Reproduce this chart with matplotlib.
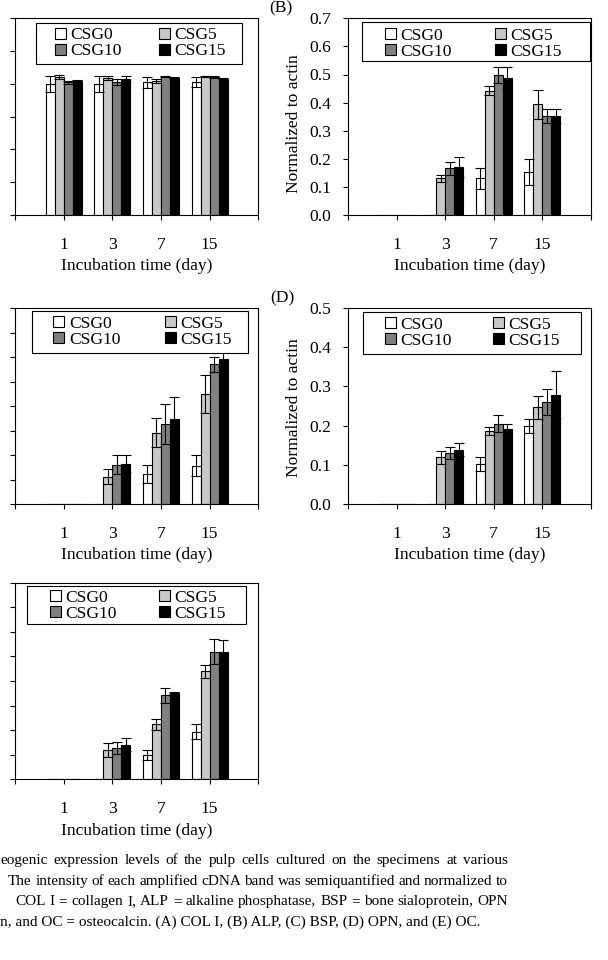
import numpy as np
import matplotlib
matplotlib.use("Agg")
import matplotlib.pyplot as plt
from matplotlib.patches import Rectangle

plt.rcParams['font.family'] = ['Liberation Serif', 'DejaVu Serif']
plt.rcParams['font.size'] = 12.6

# Datos (filas: CSG0, CSG5, CSG10, CSG15 ; columnas: dias)
dias = ['1', '3', '7', '15']
grupos = ['CSG0', 'CSG5', 'CSG10', 'CSG15']
colores = ['white', '#c8c8c8', '#808080', 'black']

# (A) COL I
col1 = [[0.80, 0.80, 0.81, 0.81],
        [0.84, 0.837, 0.82, 0.845],
        [0.81, 0.812, 0.843, 0.84],
        [0.82, 0.829, 0.837, 0.83]]
col1_err = [[0.048, 0.048, 0.033, 0.03],
            [0.012, 0.012, 0.012, 0.005],
            [0.008, 0.02, 0.004, 0.006],
            [0.005, 0.018, 0.003, 0.003]]

# (B) ALP
alp = [[0, 0, 0.130, 0.154],
       [0, 0.130, 0.442, 0.394],
       [0, 0.166, 0.498, 0.353],
       [0, 0.172, 0.489, 0.353]]
alp_err = [[0, 0, 0.036, 0.047],
           [0, 0.014, 0.016, 0.051],
           [0, 0.024, 0.027, 0.025],
           [0, 0.036, 0.039, 0.025]]

# (C) BSP
bsp = [[0, 0, 0.123, 0.157],
       [0, 0.112, 0.290, 0.449],
       [0, 0.160, 0.328, 0.570],
       [0, 0.164, 0.346, 0.591]]
bsp_err = [[0, 0, 0.038, 0.044],
           [0, 0.031, 0.059, 0.078],
           [0, 0.038, 0.082, 0.031],
           [0, 0.034, 0.089, 0.030]]

# (D) OPN
opn = [[0, 0, 0.102, 0.199],
       [0, 0.119, 0.186, 0.247],
       [0, 0.131, 0.205, 0.261],
       [0, 0.139, 0.191, 0.279]]
opn_err = [[0, 0, 0.017, 0.019],
           [0, 0.016, 0.011, 0.029],
           [0, 0.015, 0.021, 0.033],
           [0, 0.016, 0.014, 0.060]]

# (E) OC
oc = [[0, 0, 0.099, 0.193],
      [0, 0.119, 0.223, 0.439],
      [0, 0.128, 0.342, 0.520],
      [0, 0.141, 0.351, 0.520]]
oc_err = [[0, 0, 0.020, 0.030],
          [0, 0.027, 0.022, 0.027],
          [0, 0.025, 0.031, 0.050],
          [0, 0.026, 0.003, 0.048]]

W, H = 608, 960
fig = plt.figure(figsize=(W / 100, H / 100), dpi=100)


def px_rect(x0, y0, x1, y1):
    return [x0 / W, 1 - y1 / H, (x1 - x0) / W, (y1 - y0) / H]


def panel(rect, medias, errores, ytop, n_int, caja, contenido, centro_leg, ylab_y=None):
    ax = fig.add_axes(px_rect(*rect))
    x = np.arange(1, len(dias) + 1)
    ancho = 0.185
    barras = []
    for i, g in enumerate(grupos):
        pos = x + (i - 1.5) * ancho
        med = np.array(medias[i])
        err = np.array(errores[i])
        b = ax.bar(pos, med, ancho, color=colores[i], edgecolor='black',
                   linewidth=0.8, label=g, zorder=2)
        barras.append(b)
        m = err > 0
        ax.errorbar(pos[m], med[m], yerr=err[m], fmt='none', ecolor='black',
                    elinewidth=0.8, capsize=3.5, capthick=0.8, zorder=3)

    ax.set_xlim(0, 5)
    ax.set_xticks(range(6))
    ax.set_xticklabels([''] + dias + [''])
    ax.set_ylim(0, ytop)
    ax.set_yticks(np.linspace(0, ytop, n_int + 1))
    ax.yaxis.set_major_formatter(matplotlib.ticker.FormatStrFormatter('%.1f'))
    ax.tick_params(direction='out', length=3.6, width=0.8)
    ax.tick_params(axis='x', pad=12)
    ax.tick_params(axis='y', pad=9)
    for s in ax.spines.values():
        s.set_linewidth(0.8)
    ax.set_xlabel('Incubation time (day)', labelpad=4)
    if ylab_y is not None:
        ax.set_ylabel('Normalized to actin')
        ax.yaxis.set_label_coords(-0.19, ylab_y)
    else:
        ax.tick_params(axis='y', labelleft=False)

    # caja de la leyenda
    bx0, bx1, by0, by1 = caja
    ax.add_patch(Rectangle((bx0, by0), bx1 - bx0, by1 - by0, transform=ax.transAxes,
                           facecolor='white', edgecolor='black', linewidth=0.8, zorder=4))
    cx0, cx1 = contenido
    orden = (0, 2, 1, 3)
    ax.legend([barras[k] for k in orden], [grupos[k] for k in orden], ncol=2,
              mode='expand', loc='center', bbox_to_anchor=(cx0, centro_leg, cx1 - cx0, 0),
              frameon=False, borderpad=0, borderaxespad=0, handlelength=0.63,
              handleheight=0.63, handletextpad=0.25, labelspacing=0,
              columnspacing=1.0)
    return ax


panel((15, 18.3, 258.3, 215), col1, col1_err, 1.2, 6,
      (0.086, 0.934, 0.767, 0.976), (0.165, 0.868), 0.872)
panel((348.3, 18.3, 590.7, 215), alp, alp_err, 0.7, 7,
      (0.056, 0.998, 0.783, 0.981), (0.152, 0.882), 0.871, 0.463)
panel((15, 308, 258.3, 504), bsp, bsp_err, 0.8, 8,
      (0.069, 0.956, 0.769, 0.983), (0.158, 0.892), 0.878)
panel((348.3, 308, 590.7, 504), opn, opn_err, 0.5, 5,
      (0.059, 0.959, 0.766, 0.978), (0.151, 0.873), 0.873, 0.49)
panel((15, 582.7, 258.3, 779.3), oc, oc_err, 0.8, 8,
      (0.051, 0.950, 0.790, 0.983), (0.144, 0.867), 0.882)

fig.text(281 / W, 1 - 0.5 / H, '(B)', ha='center', va='top')
fig.text(282 / W, 1 - 298 / H, '(D)', ha='center', va='center')

# pie de figura (recortado a la izquierda, justificado)
tam_pie = 11
renderer = fig.canvas.get_renderer()


def linea_justificada(texto, x0, x1, y):
    palabras = texto.split(' ')
    objs = [fig.text(0, 1 - y / H, p, fontsize=tam_pie, va='baseline') for p in palabras]
    anchos = [t.get_window_extent(renderer).width for t in objs]
    hueco = (x1 - x0 - sum(anchos)) / (len(palabras) - 1)
    xp = x0
    for t, a in zip(objs, anchos):
        t.set_x(xp / W)
        xp += a + hueco


linea_justificada('eogenic expression levels of the pulp cells cultured on the specimens at various',
                  0, 508, 864)
linea_justificada('The intensity of each amplified cDNA band was semiquantified and normalized to',
                  8, 508, 885)
linea_justificada('COL I = collagen I, ALP = alkaline phosphatase, BSP = bone sialoprotein, OPN',
                  15, 508, 905)
fig.text(0, 1 - 926 / H, 'n, and OC = osteocalcin. (A) COL I, (B) ALP, (C) BSP, (D) OPN, and (E) OC.',
         fontsize=tam_pie, va='baseline')

fig.savefig('out.png', dpi=100)
